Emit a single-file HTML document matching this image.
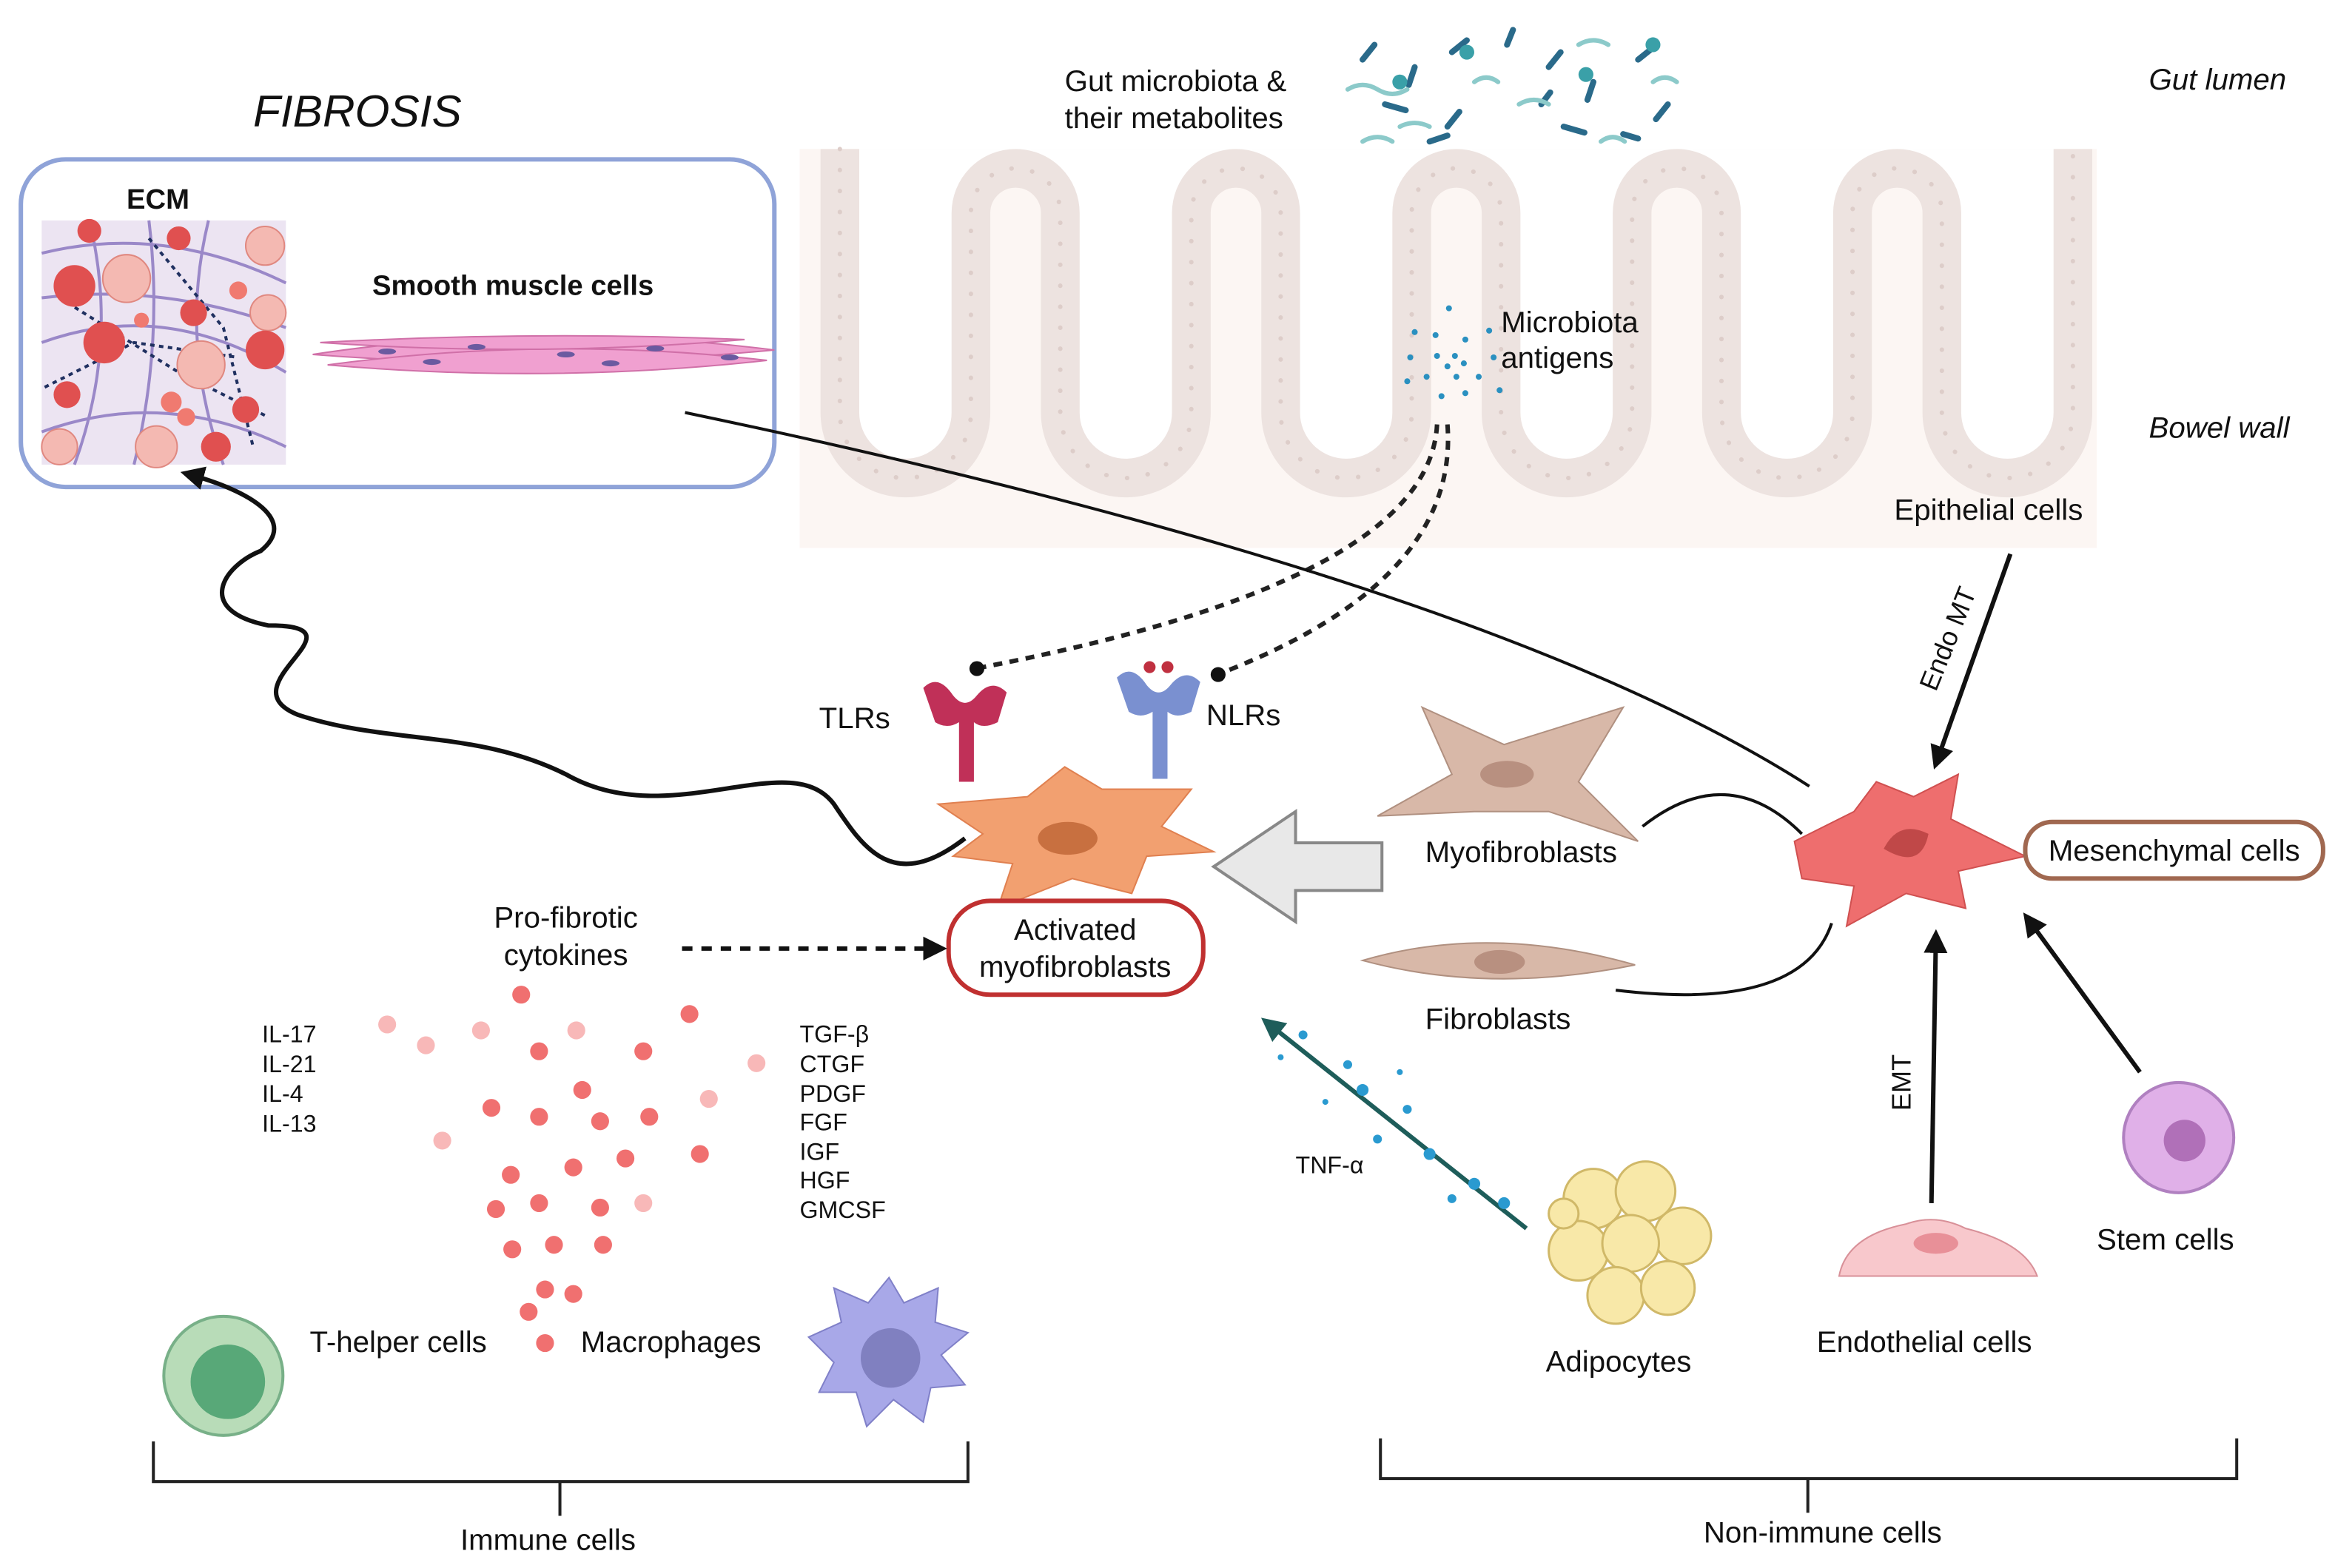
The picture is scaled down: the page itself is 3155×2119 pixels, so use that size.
<!DOCTYPE html>
<html><head><meta charset="utf-8"><style>html,body{margin:0;padding:0;background:#fff}svg{display:block}text{font-family:"Liberation Sans",sans-serif;fill:#111}</style></head><body>
<svg width="3155" height="2119" viewBox="0 0 1568 1053" xmlns="http://www.w3.org/2000/svg">
<defs>
<marker id="ahb" markerWidth="16" markerHeight="16" refX="12" refY="8" orient="auto" markerUnits="userSpaceOnUse" viewBox="0 0 16 16"><path d="M0,0 L16,8 L0,16 z" fill="#111"/></marker>
<marker id="aht" markerWidth="16" markerHeight="16" refX="12" refY="8" orient="auto" markerUnits="userSpaceOnUse" viewBox="0 0 16 16"><path d="M0,0 L16,8 L0,16 z" fill="#1e5d5a"/></marker>
</defs>
<!-- bowel wall -->
<rect x="537" y="100" width="871" height="268" fill="#fcf6f3"/>
<path d="M537,100 L564,100 L564,277 A44,44 0 0 0 652,277 L652,143 A30,30 0 0 1 712,143 L712,277 A44,44 0 0 0 800,277 L800,143 A30,30 0 0 1 860,143 L860,277 A44,44 0 0 0 948,277 L948,143 A30,30 0 0 1 1008,143 L1008,277 A44,44 0 0 0 1096,277 L1096,143 A30,30 0 0 1 1156,143 L1156,277 A44,44 0 0 0 1244,277 L1244,143 A30,30 0 0 1 1304,143 L1304,277 A44,44 0 0 0 1392,277 L1392,100 L1408,100 L1408,100 Z" fill="#fff"/>
<path id="vp" d="M564,100 L564,277 A44,44 0 0 0 652,277 L652,143 A30,30 0 0 1 712,143 L712,277 A44,44 0 0 0 800,277 L800,143 A30,30 0 0 1 860,143 L860,277 A44,44 0 0 0 948,277 L948,143 A30,30 0 0 1 1008,143 L1008,277 A44,44 0 0 0 1096,277 L1096,143 A30,30 0 0 1 1156,143 L1156,277 A44,44 0 0 0 1244,277 L1244,143 A30,30 0 0 1 1304,143 L1304,277 A44,44 0 0 0 1392,277 L1392,100" fill="none" stroke="#ede3e0" stroke-width="26"/>
<path d="M564,100 L564,277 A44,44 0 0 0 652,277 L652,143 A30,30 0 0 1 712,143 L712,277 A44,44 0 0 0 800,277 L800,143 A30,30 0 0 1 860,143 L860,277 A44,44 0 0 0 948,277 L948,143 A30,30 0 0 1 1008,143 L1008,277 A44,44 0 0 0 1096,277 L1096,143 A30,30 0 0 1 1156,143 L1156,277 A44,44 0 0 0 1244,277 L1244,143 A30,30 0 0 1 1304,143 L1304,277 A44,44 0 0 0 1392,277 L1392,100" fill="none" stroke="#ddcdc9" stroke-width="3" stroke-linecap="round" stroke-dasharray="0.1,14"/>
<!-- fibrosis box -->
<text x="170" y="85" font-size="30" font-style="italic">FIBROSIS</text>
<rect x="14" y="107" width="506" height="220" rx="30" fill="#fff" stroke="#8fa3d8" stroke-width="3"/>
<text x="85" y="140" font-size="19" font-weight="bold">ECM</text>
<rect x="28" y="148" width="164" height="164" fill="#ece4f2"/>
<g stroke="#9a88c8" stroke-width="2" fill="none"><path d="M28,170 Q110,150 192,190"/><path d="M28,230 Q110,200 192,250"/><path d="M28,290 Q110,260 192,300"/><path d="M60,148 Q80,230 50,312"/><path d="M140,148 Q120,230 150,312"/><path d="M28,200 Q110,190 192,220"/><path d="M100,148 Q110,230 90,312"/></g>
<g stroke="#203060" stroke-width="2" stroke-dasharray="3,3" fill="none"><path d="M40,200 L120,250 L180,280"/><path d="M100,160 L150,220 L170,300"/><path d="M30,260 L90,230 L160,240"/></g>
<g fill="#f4b9b2" stroke="#e08880"><circle cx="85" cy="187" r="16"/><circle cx="135" cy="245" r="16"/><circle cx="40" cy="300" r="12"/><circle cx="178" cy="165" r="13"/><circle cx="105" cy="300" r="14"/><circle cx="180" cy="210" r="12"/></g>
<g fill="#e05050"><circle cx="50" cy="192" r="14"/><circle cx="70" cy="230" r="14"/><circle cx="178" cy="235" r="13"/><circle cx="130" cy="210" r="9"/><circle cx="165" cy="275" r="9"/><circle cx="145" cy="300" r="10"/><circle cx="45" cy="265" r="9"/><circle cx="120" cy="160" r="8"/><circle cx="60" cy="155" r="8"/></g>
<g fill="#f07a70"><circle cx="115" cy="270" r="7"/><circle cx="125" cy="280" r="6"/><circle cx="160" cy="195" r="6"/><circle cx="95" cy="215" r="5"/></g>
<text x="250" y="198" font-size="19" font-weight="bold">Smooth muscle cells</text>
<g fill="#f0a0d0" stroke="#d070a8" stroke-width="1"><path d="M210,238 Q360,215 520,235 Q360,250 210,238Z"/><path d="M220,245 Q370,225 515,242 Q370,258 220,245Z"/><path d="M215,230 Q360,222 500,228 Q360,240 215,230Z"/></g>
<g fill="#6a5aa0"><ellipse cx="260" cy="236" rx="6" ry="2"/><ellipse cx="320" cy="233" rx="6" ry="2"/><ellipse cx="380" cy="238" rx="6" ry="2"/><ellipse cx="440" cy="234" rx="6" ry="2"/><ellipse cx="490" cy="240" rx="6" ry="2"/><ellipse cx="290" cy="243" rx="6" ry="2"/><ellipse cx="410" cy="244" rx="6" ry="2"/></g>
<!-- labels top -->
<text x="715" y="61" font-size="20">Gut microbiota &amp;</text>
<text x="715" y="86" font-size="20">their metabolites</text>
<g stroke-width="4" stroke-linecap="round"><path d="M915,40 l8,-10 M950,45 l-4,12 M975,35 l10,-8 M930,70 l14,4 M980,75 l-8,10 M1040,45 l8,-10 M1070,55 l-4,12 M1100,40 l10,-8 M1050,85 l14,4 M1120,70 l-8,10 M960,95 l12,-4 M1090,90 l10,3 M1012,30 l4,-10 M1035,70 l6,-8" stroke="#2a6a8a"/><path d="M905,60 q10,-6 20,0 q10,6 20,0 M990,55 q8,-6 16,0 M1020,70 q10,-6 20,0 M1110,55 q8,-6 16,0 M940,85 q10,-5 20,0 M1060,30 q10,-6 20,0 M915,95 q10,-6 20,0 M1075,95 q8,-6 16,0" stroke="#8ccaca" fill="none" stroke-width="3"/></g>
<g fill="#3aa0a8"><circle cx="940" cy="55" r="5"/><circle cx="985" cy="35" r="5"/><circle cx="1065" cy="50" r="5"/><circle cx="1110" cy="30" r="5"/></g>
<text x="1443" y="60" font-size="20" font-style="italic">Gut lumen</text>
<text x="1443" y="294" font-size="20" font-style="italic">Bowel wall</text>
<g fill="#2a90c0"><circle cx="973" cy="207" r="2"/><circle cx="950" cy="223" r="2"/><circle cx="964" cy="225" r="2"/><circle cx="984" cy="228" r="2"/><circle cx="1000" cy="222" r="2"/><circle cx="947" cy="240" r="2"/><circle cx="965" cy="239" r="2"/><circle cx="977" cy="239" r="2"/><circle cx="1003" cy="240" r="2"/><circle cx="972" cy="246" r="2"/><circle cx="983" cy="244" r="2"/><circle cx="958" cy="253" r="2"/><circle cx="978" cy="253" r="2"/><circle cx="993" cy="253" r="2"/><circle cx="945" cy="256" r="2"/><circle cx="968" cy="266" r="2"/><circle cx="984" cy="264" r="2"/><circle cx="1007" cy="262" r="2"/></g>
<text x="1008" y="223" font-size="20">Microbiota</text>
<text x="1008" y="247" font-size="20">antigens</text>
<text x="1272" y="349" font-size="20">Epithelial cells</text>
<!-- dotted lines -->
<g fill="none" stroke="#222" stroke-width="3" stroke-dasharray="6,5"><path d="M972,285 Q980,390 820,452"/><path d="M965,285 Q960,390 660,448"/></g>
<circle cx="818" cy="453" r="5" fill="#111"/><circle cx="656" cy="449" r="5" fill="#111"/>
<path d="M460,277 Q1000,390 1215,528" fill="none" stroke="#111" stroke-width="2"/>
<!-- receptors -->
<text x="550" y="489" font-size="20">TLRs</text>
<text x="810" y="487" font-size="20">NLRs</text>
<path d="M620,462 q10,-10 20,5 q8,10 16,0 q10,-12 20,-2 l-6,20 q-10,5 -16,0 l0,40 l-10,0 l0,-40 q-8,5 -16,0z" fill="#c03058"/>
<path d="M750,455 q10,-10 20,5 q8,10 16,0 q10,-12 20,-2 l-6,20 q-10,5 -16,0 l0,45 l-10,0 l0,-45 q-8,5 -16,0z" fill="#7a90d0"/>
<circle cx="772" cy="448" r="4" fill="#c03040"/><circle cx="784" cy="448" r="4" fill="#c03040"/>
<!-- activated myofibroblast -->
<path d="M630,540 L690,535 L715,515 L740,530 L800,530 L780,555 L815,572 L770,575 L760,600 L720,590 L670,610 L680,580 L640,575 L660,560Z" fill="#f2a070" stroke="#e08050"/>
<ellipse cx="717" cy="563" rx="20" ry="11" fill="#c87040"/>
<rect x="637" y="605" width="171" height="63" rx="28" fill="#fff" stroke="#c03030" stroke-width="3"/>
<text x="722" y="631" font-size="20" text-anchor="middle">Activated</text>
<text x="722" y="656" font-size="20" text-anchor="middle">myofibroblasts</text>
<!-- wavy arrow -->
<path d="M648,563 C600,600 580,570 560,540 C530,500 450,560 380,520 C320,490 260,500 200,480 C150,460 250,420 180,420 C130,410 150,380 175,370 C200,350 170,330 125,318" fill="none" stroke="#111" stroke-width="3" marker-end="url(#ahb)"/>
<!-- gray arrow -->
<path d="M928,566 L870,566 L870,545 L815,582 L870,619 L870,598 L928,598Z" fill="#e8e8e8" stroke="#888" stroke-width="2"/>
<!-- myofibroblasts, fibroblasts -->
<path d="M925,548 L975,520 L955,475 L1010,500 L1090,475 L1060,525 L1100,565 L1040,545 L990,545Z" fill="#d8b8a8" stroke="#b09080"/>
<ellipse cx="1012" cy="520" rx="18" ry="9" fill="#b89080"/>
<text x="957" y="579" font-size="20">Myofibroblasts</text>
<path d="M915,645 Q1000,620 1098,648 Q1000,668 915,645Z" fill="#d8b8a8" stroke="#b09080"/>
<ellipse cx="1007" cy="646" rx="17" ry="8" fill="#b89080"/>
<text x="957" y="691" font-size="20">Fibroblasts</text>
<path d="M1103,555 Q1160,510 1210,560" fill="none" stroke="#111" stroke-width="2"/>
<path d="M1085,665 Q1210,680 1230,620" fill="none" stroke="#111" stroke-width="2"/>
<!-- mesenchymal -->
<path d="M1205,565 L1245,545 L1260,525 L1285,535 L1315,520 L1310,550 L1360,575 L1315,585 L1320,610 L1280,600 L1240,622 L1245,595 L1210,590Z" fill="#ee6e6e" stroke="#d05050"/>
<path d="M1265,570 q10,-20 30,-10 q-5,25 -30,10z" fill="#c04848"/>
<rect x="1360" y="552" width="200" height="38" rx="18" fill="#fff" stroke="#a06850" stroke-width="3"/>
<text x="1460" y="578" font-size="20" text-anchor="middle">Mesenchymal cells</text>
<!-- arrows to mesenchymal -->
<path d="M1350,372 L1300,513" stroke="#111" stroke-width="3" marker-end="url(#ahb)"/>
<text transform="translate(1300,465) rotate(-68)" font-size="18">Endo MT</text>
<path d="M1297,808 L1300,628" stroke="#111" stroke-width="3" marker-end="url(#ahb)"/>
<text transform="translate(1283,746) rotate(-90)" font-size="18">EMT</text>
<path d="M1437,720 L1361,616" stroke="#111" stroke-width="3" marker-end="url(#ahb)"/>
<!-- stem, endothelial, adipocytes -->
<circle cx="1463" cy="764" r="37" fill="#e0b0e8" stroke="#b080c0" stroke-width="2"/>
<circle cx="1467" cy="766" r="14" fill="#b070b8"/>
<text x="1408" y="839" font-size="20">Stem cells</text>
<path d="M1235,857 Q1240,830 1280,822 Q1300,815 1320,825 Q1360,835 1368,857Z" fill="#f8c8cc" stroke="#d89098"/>
<ellipse cx="1300" cy="835" rx="15" ry="7" fill="#e89098"/>
<text x="1220" y="908" font-size="20">Endothelial cells</text>
<g fill="#f8e8a8" stroke="#d0b868" stroke-width="1.5"><circle cx="1070" cy="805" r="20"/><circle cx="1105" cy="800" r="20"/><circle cx="1130" cy="830" r="19"/><circle cx="1060" cy="840" r="20"/><circle cx="1095" cy="835" r="19"/><circle cx="1085" cy="870" r="19"/><circle cx="1120" cy="865" r="18"/><circle cx="1050" cy="815" r="10"/></g>
<text x="1038" y="921" font-size="20">Adipocytes</text>
<path d="M1025,825 L850,686" stroke="#1e5d5a" stroke-width="3" marker-end="url(#aht)"/>
<g fill="#2a9ad0"><circle cx="875" cy="695" r="3"/><circle cx="905" cy="715" r="3"/><circle cx="915" cy="732" r="4"/><circle cx="945" cy="745" r="3"/><circle cx="925" cy="765" r="3"/><circle cx="960" cy="775" r="4"/><circle cx="990" cy="795" r="4"/><circle cx="1010" cy="808" r="4"/><circle cx="975" cy="805" r="3"/><circle cx="890" cy="740" r="2"/><circle cx="860" cy="710" r="2"/><circle cx="940" cy="720" r="2"/></g>
<text x="870" y="788" font-size="16">TNF-α</text>
<!-- cytokines -->
<text x="380" y="623" font-size="20" text-anchor="middle">Pro-fibrotic</text>
<text x="380" y="648" font-size="20" text-anchor="middle">cytokines</text>
<path d="M458,637 L632,637" stroke="#111" stroke-width="3" stroke-dasharray="7,6" marker-end="url(#ahb)"/>
<g font-size="16"><text x="176" y="700">IL-17</text><text x="176" y="720">IL-21</text><text x="176" y="740">IL-4</text><text x="176" y="760">IL-13</text>
<text x="537" y="700">TGF-β</text><text x="537" y="720">CTGF</text><text x="537" y="740">PDGF</text><text x="537" y="759">FGF</text><text x="537" y="779">IGF</text><text x="537" y="798">HGF</text><text x="537" y="818">GMCSF</text></g>
<g fill="#f07070"><circle cx="350" cy="668" r="6"/><circle cx="463" cy="681" r="6"/><circle cx="362" cy="706" r="6"/><circle cx="432" cy="706" r="6"/><circle cx="391" cy="732" r="6"/><circle cx="330" cy="744" r="6"/><circle cx="362" cy="750" r="6"/><circle cx="403" cy="753" r="6"/><circle cx="436" cy="750" r="6"/><circle cx="470" cy="775" r="6"/><circle cx="420" cy="778" r="6"/><circle cx="385" cy="784" r="6"/><circle cx="343" cy="789" r="6"/><circle cx="362" cy="808" r="6"/><circle cx="403" cy="811" r="6"/><circle cx="333" cy="812" r="6"/><circle cx="344" cy="839" r="6"/><circle cx="372" cy="836" r="6"/><circle cx="405" cy="836" r="6"/><circle cx="366" cy="866" r="6"/><circle cx="385" cy="869" r="6"/><circle cx="355" cy="881" r="6"/><circle cx="366" cy="902" r="6"/></g>
<g fill="#f8b8b8"><circle cx="260" cy="688" r="6"/><circle cx="286" cy="702" r="6"/><circle cx="323" cy="692" r="6"/><circle cx="387" cy="692" r="6"/><circle cx="508" cy="714" r="6"/><circle cx="476" cy="738" r="6"/><circle cx="297" cy="766" r="6"/><circle cx="432" cy="808" r="6"/></g>
<!-- immune cells -->
<circle cx="150" cy="924" r="40" fill="#b8dcb8" stroke="#78b088" stroke-width="2"/>
<circle cx="153" cy="928" r="25" fill="#58a878"/>
<text x="208" y="908" font-size="20">T-helper cells</text>
<text x="390" y="908" font-size="20">Macrophages</text>
<path d="M597,858 L607,875 L630,865 L628,888 L650,895 L632,910 L648,930 L625,932 L620,955 L600,940 L582,958 L575,935 L550,935 L560,915 L543,898 L565,888 L560,865 L583,875Z" fill="#a8a8e8" stroke="#8080c8"/>
<circle cx="598" cy="912" r="20" fill="#8080c0"/>
<!-- brackets -->
<g fill="none" stroke="#222" stroke-width="2"><path d="M103,968 L103,995 L650,995 L650,968 M376,995 L376,1018"/><path d="M927,966 L927,993 L1502,993 L1502,966 M1214,993 L1214,1016"/></g>
<text x="368" y="1041" font-size="20" text-anchor="middle">Immune cells</text>
<text x="1224" y="1036" font-size="20" text-anchor="middle">Non-immune cells</text>
</svg>
</body></html>
